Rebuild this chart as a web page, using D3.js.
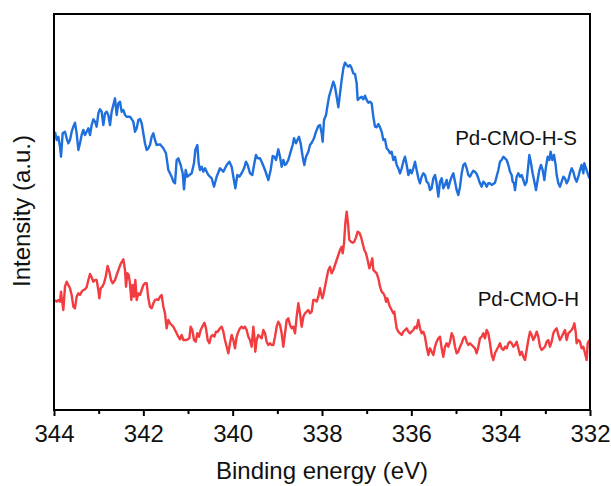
<!DOCTYPE html>
<html>
<head>
<meta charset="utf-8">
<script src="https://cdn.jsdelivr.net/npm/d3@7"></script>
<style>
  html, body { margin: 0; padding: 0; background: #fff; }
  svg { display: block; font-family: "Liberation Sans", Arial, sans-serif; }
</style>
</head>
<body>
<svg id="chart" width="611" height="486"></svg>
<script>
// Pd 3d XPS spectra, [binding energy (eV), intensity (a.u.)]
const pdCmoHS = [
  [343.978,278.3],[343.940,270],[343.903,273.3],[343.866,263.3],[343.843,253.3],[343.806,276.7],[343.754,278.3],[343.716,271.7],[343.679,266.7],[343.642,270],
  [343.604,278.3],[343.567,283.3],[343.530,287.3],[343.493,276.7],[343.455,260],[343.418,266.7],[343.381,275],[343.343,280],[343.306,275],[343.269,278.3],
  [343.231,281.7],[343.194,275],[343.157,285],[343.119,290.7],[343.082,288.3],[343.045,283.3],[343.007,296.7],[342.970,300.7],[342.933,298.3],[342.896,285],
  [342.858,296.7],[342.821,298.3],[342.784,295],[342.746,285],[342.709,298.3],[342.672,305],[342.634,311.7],[342.597,295],[342.560,306.7],[342.522,308.3],
  [342.485,298.3],[342.448,300],[342.410,295],[342.373,293.3],[342.299,293.3],[342.224,288.3],[342.187,278.3],[342.149,281.7],[342.112,290],[342.075,291],
  [342.037,286.7],[342.000,276.7],[341.963,266.7],[341.925,260],[341.888,261.7],[341.851,265],[341.813,273.3],[341.776,276.7],[341.739,270],[341.701,265],
  [341.627,265.7],[341.552,261.7],[341.493,256.7],[341.440,240],[341.366,233.3],[341.328,228.3],[341.291,226.7],[341.254,250],[341.216,251.7],[341.164,245],
  [341.119,236.7],[341.090,220.7],[341.052,240],[341.015,233.3],[340.970,235],[340.918,236.7],[340.866,246.7],[340.836,260],[340.791,265],[340.761,246.7],
  [340.731,240],[340.694,243.3],[340.657,238.3],[340.619,241.7],[340.582,238.3],[340.545,235],[340.470,231.7],[340.418,223.3],[340.358,233.3],
  [340.284,241.7],[340.209,238.3],[340.134,245],[340.075,248.3],[340.022,243.3],[339.985,233.3],[339.940,221.7],[339.896,235],[339.851,233.3],[339.799,236.7],
  [339.746,241.7],[339.701,248.3],[339.664,245],[339.612,236.7],[339.560,235],[339.515,246.7],[339.478,255],[339.440,251.7],[339.388,251.7],[339.336,246.7],
  [339.276,240],[339.201,230],[339.149,240],[339.104,254],[339.067,253.3],[339.030,250],[338.978,260.7],[338.940,253.3],[338.903,243.3],[338.866,250],
  [338.828,245],[338.791,246.7],[338.754,250],[338.701,258.3],[338.657,265],[338.627,271.7],[338.582,266.7],[338.552,270],[338.515,273.3],[338.478,266.7],
  [338.433,253.3],[338.396,245],[338.358,253.3],[338.306,258.3],[338.269,265],[338.231,267.3],[338.179,271.7],[338.134,278.3],[338.082,284],[338.045,285],
  [338.007,276.7],[337.985,268.3],[337.955,290],[337.910,295],[337.881,303.3],[337.843,313.3],[337.799,320],[337.746,328.3],[337.709,323.3],[337.672,313.3],
  [337.634,302.7],[337.597,316.7],[337.560,330],[337.522,341.7],[337.485,347.3],[337.448,345],[337.410,343.3],[337.373,345],[337.336,341.7],[337.299,336.7],
  [337.261,336],[337.224,326.7],[337.201,310],[337.164,311.7],[337.112,313.3],[337.075,310.7],[337.037,314.3],[337.000,310],[336.963,307.3],[336.925,308.3],
  [336.888,306.7],[336.851,293.3],[336.813,283.3],[336.776,282.7],[336.739,286],[336.701,282.7],[336.664,278.3],[336.627,270],[336.590,270.7],[336.552,261.7],
  [336.515,260],[336.478,256.7],[336.440,258.3],[336.403,250],[336.366,253.3],[336.328,245],[336.291,241.7],
  [336.254,236.7],[336.216,241.7],[336.179,248.3],[336.142,253.3],[336.104,245],[336.067,235],[336.030,240],[335.993,236.7],[335.955,241.7],[335.918,248.3],
  [335.881,240],[335.843,231.7],[335.806,226.7],[335.769,233.3],[335.731,236.7],[335.694,235],[335.657,228.3],[335.619,226.7],[335.582,220],[335.545,221.7],
  [335.507,231.7],[335.470,235],[335.433,226.7],[335.395,213.3],[335.358,228.3],[335.321,231.7],[335.284,221.7],[335.246,225],[335.209,230],[335.172,221.7],
  [335.134,228.3],[335.097,233.3],[335.060,236.7],[335.022,228.3],[334.985,220],[334.948,215],[334.910,223.3],[334.873,236.7],[334.836,245],[334.798,246.7],
  [334.761,241.7],[334.724,235],[334.687,233.3],[334.649,236.7],[334.612,239.3],[334.575,238.3],[334.537,236],[334.500,231.7],[334.463,226.7],[334.425,223.3],
  [334.388,228.3],[334.351,226.7],[334.313,223.3],[334.276,226.7],[334.239,226.7],[334.201,225],[334.127,227.3],[334.052,240],[334.015,248.3],[333.978,250],
  [333.940,253.3],[333.903,251.7],[333.866,250],[333.828,245],[333.791,238.3],[333.754,235],[333.731,228.3],[333.701,226.7],[333.679,220],[333.642,233.3],
  [333.604,236.7],[333.567,233.3],[333.530,235],[333.493,230],[333.455,225],[333.418,228.3],[333.381,245],[333.358,255],[333.321,246.7],[333.284,236.7],
  [333.246,228.3],[333.209,220],[333.172,230],[333.134,240],[333.097,245],[333.060,240],[333.022,230],[332.985,243.3],[332.948,253.3],[332.910,250],
  [332.881,258.3],[332.843,250],[332.806,255],[332.769,245],[332.746,235],[332.709,226.7],[332.672,223.3],[332.634,228.3],[332.597,233.3],[332.560,231.7],
  [332.522,226.7],[332.485,230],[332.448,236.7],[332.410,241.7],[332.373,238.3],[332.336,231.7],[332.299,228.3],[332.261,233.3],[332.224,240],[332.187,245],
  [332.149,236.7],[332.127,246.7],[332.090,241.7],[332.052,236.7],[332.015,231.7]
];

const pdCmoH = [
  [343.978,110],[343.940,108.3],[343.903,110],[343.866,108.3],[343.843,118.3],[343.821,110],[343.791,100],[343.754,123.3],[343.716,128.3],[343.679,125],
  [343.642,121.7],[343.604,115],[343.567,103.3],[343.530,101.7],[343.493,113.3],[343.455,116.7],[343.418,115],[343.381,118.3],[343.343,120],[343.306,120.7],
  [343.269,122.7],[343.231,130],[343.194,136],[343.157,132.7],[343.119,128.3],[343.082,130],[343.045,130],[343.007,120],[342.985,111.7],[342.955,121.7],
  [342.918,123.3],[342.881,126.7],[342.843,133.3],[342.799,144],[342.761,138.3],[342.724,130],[342.687,126.7],[342.634,130],[342.597,135],[342.545,141.7],
  [342.500,146.7],[342.448,150.7],[342.410,140],[342.388,123.3],[342.358,136.7],[342.328,135],[342.299,126.7],[342.269,110],[342.239,125],[342.209,113.3],
  [342.179,130],[342.149,110],[342.112,116.7],[342.075,115],[342.037,120],[342.000,125],[341.963,126.7],[341.925,126.7],[341.888,111.7],[341.851,103.3],
  [341.813,101.7],[341.776,106.7],[341.739,110],[341.701,110.7],[341.664,110],[341.627,113.3],[341.590,115],[341.552,103.3],[341.515,96.7],[341.478,81.7],
  [341.440,90],[341.403,86.7],[341.366,85],[341.328,83.3],[341.291,80],[341.254,76.7],[341.216,73.3],[341.179,70.7],[341.142,75],[341.104,70],
  [341.030,70],[340.970,71.7],[340.940,83.3],[340.903,80],[340.866,70],[340.828,68.3],[340.791,76.7],[340.754,73.3],[340.716,80],[340.672,84],
  [340.634,87.3],[340.597,81.7],[340.560,70],[340.522,66.7],[340.485,73.3],[340.448,75],[340.410,73.3],[340.373,78.3],[340.336,78.3],
  [340.284,81.7],[340.246,83.3],[340.209,78.3],[340.172,70],[340.134,63.3],[340.097,56.7],[340.060,66.7],[340.022,75],[339.985,70],[339.948,61.7],
  [339.910,73.3],[339.873,78.3],[339.836,81.7],[339.799,83.3],[339.761,81.7],[339.724,83.3],[339.687,80],[339.649,73.3],[339.612,70],[339.575,63.3],
  [339.537,83.3],[339.515,73.3],[339.493,58.3],[339.463,70],[339.425,75],[339.388,73.3],[339.351,71.7],[339.313,80],[339.276,76.7],[339.239,68.3],
  [339.201,65],[339.164,66.7],[339.127,65],[339.090,65],[339.052,73.3],[339.015,83.3],[338.978,88.3],[338.940,85],[338.903,76.7],[338.866,63.3],
  [338.828,76.7],[338.791,90],[338.754,91.7],[338.716,85],[338.679,81.7],[338.642,83.3],[338.604,76.7],[338.567,93.3],[338.530,106.7],[338.493,96.7],
  [338.455,83.3],[338.418,93.3],[338.381,96.7],[338.343,98.3],[338.306,100],[338.269,96.7],[338.231,98.3],[338.194,110],[338.157,110],[338.119,108.3],
  [338.082,113.3],[338.045,121.7],[338.022,116.7],[337.993,111.7],[337.970,115],[337.933,123.3],[337.896,131.7],[337.858,140],[337.821,143.3],[337.784,136.7],
  [337.746,140],[337.709,145],[337.672,150],[337.634,155],[337.597,160],[337.560,163.3],[337.537,156.7],[337.507,166.7],[337.478,186.7],[337.448,198.3],
  [337.418,186.7],[337.388,170],[337.351,168.3],[337.313,167.3],[337.276,168.3],[337.239,172.7],[337.201,178.3],[337.164,177.3],[337.127,173.3],[337.090,166.7],
  [337.052,160],[337.015,156.7],[336.978,150],[336.940,141.7],[336.903,146.7],[336.873,151.7],[336.851,140],[336.813,138.3],[336.776,136.7],[336.739,131.7],
  [336.701,123.3],[336.664,118.3],[336.627,116.7],[336.590,113.3],[336.567,108.3],[336.537,111.7],[336.507,106.7],[336.478,103.3],[336.440,100],[336.403,96.7],
  [336.381,98.3],[336.351,88.3],[336.328,81.7],[336.291,78.3],
  [336.254,76.7],[336.216,75],[336.179,78.3],[336.142,80],[336.104,81.7],[336.067,78.3],[336.030,76.7],[335.993,78.3],[335.955,80],[335.918,83.3],
  [335.881,81.7],[335.843,90],[335.806,81.7],[335.769,76.7],[335.731,78.3],[335.694,73.3],[335.657,63.3],[335.619,55],[335.582,61.7],[335.545,58.3],
  [335.507,55],[335.470,63.3],[335.433,68.3],[335.395,71.7],[335.358,73.3],[335.321,61.7],[335.284,53.3],[335.246,63.3],[335.209,66.7],[335.172,63.3],
  [335.134,68.3],[335.097,76.7],[335.060,73.3],[335.022,63.3],[334.985,56.7],[334.948,58.3],[334.910,63.3],[334.873,66.7],[334.836,71.7],[334.798,73.3],
  [334.761,68.3],[334.724,65],[334.687,66.7],[334.649,65],[334.612,63.3],[334.575,61.7],[334.537,56.7],[334.500,63.3],[334.463,71.7],[334.425,73.3],
  [334.388,76.7],[334.351,71.7],[334.313,80],[334.276,76.7],[334.239,66.7],[334.201,55],[334.164,50],[334.127,56.7],[334.090,60],[334.052,63.3],
  [334.015,66.7],[333.978,61.7],[333.940,60],[333.903,63.3],[333.866,61.7],[333.828,66.7],[333.791,68.3],[333.754,66.7],[333.716,63.3],[333.679,65],
  [333.642,68.3],[333.604,61.7],[333.567,55],[333.530,58.3],[333.493,53.3],[333.455,50],[333.418,60],[333.381,70],[333.343,78.3],[333.306,75],
  [333.269,70],[333.231,73.3],[333.194,78.3],[333.157,73.3],[333.119,63.3],[333.082,60],[333.045,61.7],[333.007,63.3],[332.970,68.3],[332.933,70],
  [332.896,63.3],[332.858,68.3],[332.821,76.7],[332.784,80],[332.746,81.7],[332.709,75],[332.672,70],[332.634,73.3],[332.597,76.7],[332.560,80],
  [332.522,70],[332.485,76.7],[332.448,78.3],[332.410,80],[332.373,83.3],[332.351,86.7],[332.321,78.3],[332.299,66.7],[332.261,70],[332.224,68.3],
  [332.187,61.7],[332.149,63.3],[332.112,56.7],[332.075,50],[332.052,66.7],[332.015,70]
];

const xDomain = [344, 332];
const yDomain = [0, 396];
const majorTicks = [344, 342, 340, 338, 336, 334, 332];
const minorTicks = [343, 341, 339, 337, 335, 333];
const seriesNames = ['Pd-CMO-H-S', 'Pd-CMO-H'];
const seriesColors = ['#1f6fdc', '#f23c40'];

const svg = d3.select('#chart');
const plot = { left: 54, right: 590, top: 14, bottom: 410 };

const x = d3.scaleLinear().domain(xDomain).range([plot.left, plot.right]);
const y = d3.scaleLinear().domain(yDomain).range([plot.bottom, plot.top]);

svg.append('defs').append('clipPath').attr('id', 'clip')
  .append('rect')
  .attr('x', plot.left).attr('y', plot.top)
  .attr('width', plot.right - plot.left).attr('height', plot.bottom - plot.top);

const line = d3.line()
  .x(d => x(d[0]))
  .y(d => y(d[1]));

const lines = svg.append('g').attr('clip-path', 'url(#clip)');
[pdCmoHS, pdCmoH].forEach((s, i) => {
  lines.append('path')
    .datum(s)
    .attr('fill', 'none')
    .attr('stroke', seriesColors[i])
    .attr('stroke-width', 2.4)
    .attr('stroke-linejoin', 'round')
    .attr('d', line);
});

// series labels
svg.append('text')
  .attr('x', 577).attr('y', 145)
  .attr('text-anchor', 'end')
  .attr('font-size', '20.5px')
  .attr('fill', '#111')
  .text(seriesNames[0]);

svg.append('text')
  .attr('x', 579).attr('y', 306)
  .attr('text-anchor', 'end')
  .attr('font-size', '20.5px')
  .attr('fill', '#111')
  .text(seriesNames[1]);

// axes
const xAxis = svg.append('g')
  .attr('transform', `translate(0,${plot.bottom})`)
  .call(d3.axisBottom(x).tickValues(majorTicks).tickSize(6).tickSizeOuter(0).tickPadding(9).tickFormat(d3.format('d')));
xAxis.select('.domain').remove();
xAxis.selectAll('line').attr('stroke', '#000').attr('stroke-width', 2);
xAxis.selectAll('text').attr('font-size', '24px').attr('fill', '#111')
  .attr('font-family', '"Liberation Sans", Arial, sans-serif');

const xMinor = svg.append('g')
  .attr('transform', `translate(0,${plot.bottom})`)
  .call(d3.axisBottom(x).tickValues(minorTicks).tickSize(4).tickSizeOuter(0).tickFormat(''));
xMinor.select('.domain').remove();
xMinor.selectAll('line').attr('stroke', '#000').attr('stroke-width', 2);

// frame
svg.append('rect')
  .attr('x', plot.left).attr('y', plot.top)
  .attr('width', plot.right - plot.left).attr('height', plot.bottom - plot.top)
  .attr('fill', 'none')
  .attr('stroke', '#000')
  .attr('stroke-width', 2);

// axis titles
svg.append('text')
  .attr('x', (plot.left + plot.right) / 2).attr('y', 479)
  .attr('text-anchor', 'middle')
  .attr('font-size', '24px')
  .attr('fill', '#111')
  .text('Binding energy (eV)');

svg.append('text')
  .attr('transform', 'translate(30,211) rotate(-90)')
  .attr('text-anchor', 'middle')
  .attr('font-size', '24px')
  .attr('fill', '#111')
  .text('Intensity (a.u.)');
</script>
</body>
</html>
